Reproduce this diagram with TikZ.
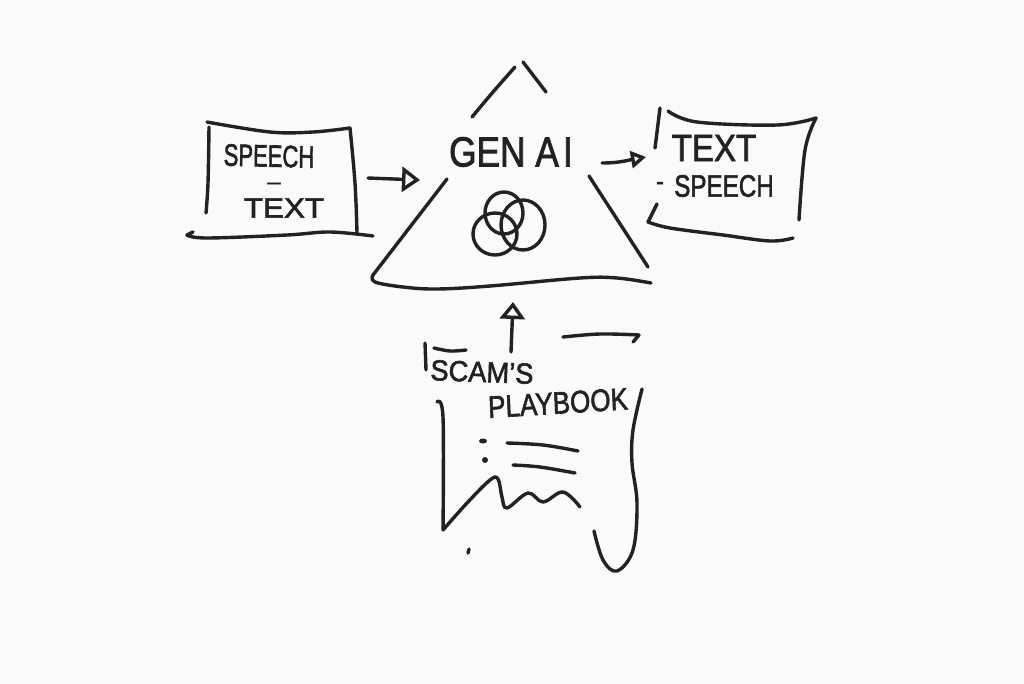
\documentclass[tikz,border=0pt]{standalone}
\usepackage{fontspec}
\setmainfont[FakeBold=2]{Liberation Sans}
\usetikzlibrary{arrows.meta}
\definecolor{paper}{HTML}{FAFAFA}
\definecolor{ink}{HTML}{222222}
\tikzset{
	pen/.style={line width=3.4pt,color=ink,line cap=round,line join=round},
	sketchline/.style={pen,smooth,tension=0.6},
	lettering/.style={inner sep=0pt,text=ink,transform shape,font=\fontsize{#1}{#1}\selectfont},
	dashmark/.style={lettering=#1,text height=3pt,text depth=0pt},
	openhead/.style={pen,-{Triangle[open,length=#1,width=25pt,fill=paper]}}
}
\begin{document}
\begin{tikzpicture}[x=1pt,y=-1pt]
	\fill[paper] (0,0) rectangle (1024,683);
	\useasboundingbox (0,0) rectangle (1024,683);

	% left box
	\draw[sketchline] plot coordinates {(207,122) (270,132) (313,132) (350,128)};
	\draw[sketchline] plot coordinates {(350,128) (355,183) (357,233)};
	\draw[sketchline] plot coordinates {(209,127) (208,183) (206,213)};
	\draw[pen] (193,232) -- (187,235);
	\draw[sketchline] plot coordinates {(187,235) (207,238) (287,235) (330,232) (373,236)};
	\node[lettering=31,xscale=.71,rotate=-1] (speechL) at (269,156) {SPEECH};
	\node[dashmark=20,xscale=1.2] (dashL) at (274,187) {–};
	\node[lettering=28,xscale=1.12] (textL) at (284,208) {TEXT};

	% triangle
	\draw[sketchline] plot coordinates {(472,117) (493,92) (515,67)};
	\draw[pen] (523,62) -- (546,92);
	\draw[pen] (447,179) -- (373,275);
	\draw[sketchline] plot coordinates {(373,275) (375,282) (403,287) (437,289) (490,286) (580,278) (617,278) (651,283)};
	\draw[pen] (589,176) -- (648,267);
	\node[lettering=42,xscale=.84] (genai) at (511,152) {GEN A\kern5pt I};
	\draw[pen] (523,225) ellipse[x radius=22,y radius=25];
	\draw[pen] (504,213) ellipse[x radius=19,y radius=21];
	\draw[pen] (495,234) ellipse[x radius=22,y radius=21];

	% right box
	\draw[pen] (660,108) -- (655,148);
	\draw[sketchline] plot coordinates {(668,111) (697,122) (777,125) (816,118)};
	\draw[sketchline] plot coordinates {(816,118) (805,150) (799,220)};
	\draw[pen] (657,204) -- (648,222);
	\draw[sketchline] plot coordinates {(648,222) (670,228) (723,235) (770,241) (793,238)};
	\node[lettering=38,xscale=.87] (textR) at (714,148) {TEXT};
	\node[lettering=31,xscale=.78] (speechR) at (724,186) {SPEECH};
	\node[dashmark=24] (dashR) at (660,188) {-};

	% arrows
	\coordinate (inL) at (368,178);
	\coordinate (inLtip) at (420,180);
	\coordinate (outR) at (602,163);
	\coordinate (outRtip) at (646,157);
	\coordinate (upB) at (511,352);
	\coordinate (upBtip) at (513,302);
	\draw[openhead=18pt] (inL) -- (inLtip);
	\draw[pen,-{Triangle[open,length=15pt,width=17pt,fill=paper]}] (outR) to[out=0,in=190] (outRtip);
	\draw[openhead=17pt] (upB) -- (upBtip);

	% playbook
	\draw[sketchline] plot coordinates {(563,337) (600,334) (639,335)};
	\draw[pen] (639,335) -- (633,342);
	\draw[pen] (425,343) -- (426,370);
	\draw[sketchline] plot coordinates {(434,348) (450,351) (466,350)};
	\node[lettering=29,xscale=.94,rotate=-2] (scams) at (482,372) {SCAM'S};
	\node[lettering=31,xscale=.84,rotate=3] (playbook) at (558,403) {PLAYBOOK};
	\draw[sketchline] plot coordinates {(437,402) (443,417) (443,530)};
	\draw[sketchline] plot coordinates {(443,530) (467,503) (490,480) (498,479) (502,497) (507,508) (528,493) (543,502) (563,492) (580,507)};
	\draw[sketchline] plot coordinates {(642,389) (633,430) (632,463) (637,503) (633,550) (617,571) (603,560) (594,531)};
	\draw[sketchline] plot coordinates {(507,443) (543,445) (578,451)};
	\draw[sketchline] plot coordinates {(513,465) (540,467) (575,473)};
	\fill[ink] (483,441) ellipse[x radius=4,y radius=2.5];
	\fill[ink] (485,460) circle[radius=3];
	\draw[pen] (469,549) -- (468,553);
\end{tikzpicture}
\end{document}
